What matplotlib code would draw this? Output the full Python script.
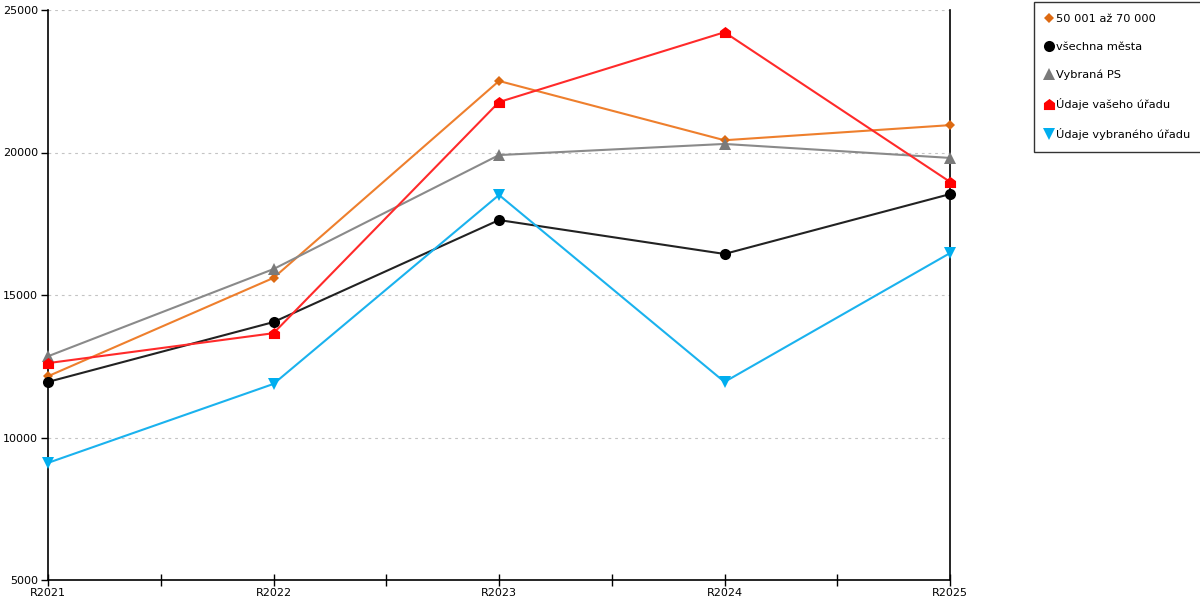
import matplotlib
matplotlib.use("Agg")
import matplotlib.pyplot as plt
from matplotlib.path import Path
from matplotlib.lines import Line2D

categories = ["R2021", "R2022", "R2023", "R2024", "R2025"]
orange_vals = [12150, 15600, 22510, 20430, 20960]
black_vals = [11950, 14050, 17630, 16440, 18540]
gray_vals = [12850, 15910, 19910, 20300, 19810]
red_vals = [12610, 13660, 21770, 24220, 18970]
cyan_vals = [9110, 11880, 18510, 11950, 16470]
labels = ["50 001 až 70 000", "všechna města", "Vybraná PS",
          "Údaje vašeho úřadu", "Údaje vybraného úřadu"]
yticks = [5000, 10000, 15000, 20000, 25000]

plt.rcParams['font.family'] = ['DejaVu Sans']

house = Path([(-1, -1), (1, -1), (1, 0.25), (0, 1), (-1, 0.25), (-1, -1)],
             [Path.MOVETO, Path.LINETO, Path.LINETO, Path.LINETO, Path.LINETO, Path.CLOSEPOLY])

fig = plt.figure(figsize=(12, 6), dpi=100)
ax = fig.add_axes([48/1200, 20/600, (950-48)/1200, 570/600])

x = list(range(len(categories)))
series = [
    (orange_vals, '#ee7f2d', '#dd6a12', 'D', 5.5),
    (black_vals, '#222222', '#000000', 'o', 8),
    (gray_vals, '#8a8a8a', '#7a7a7a', '^', 8),
    (red_vals, '#ff2a2a', '#ff0000', house, 8),
    (cyan_vals, '#1ab2ee', '#00aeef', 'v', 8),
]
handles = []
for (vals, lc, mc, mk, ms), lab in zip(series, labels):
    ax.plot(x, vals, color=lc, lw=1.5, zorder=3, clip_on=False)
    ax.plot(x, vals, linestyle='none', marker=mk, ms=ms, color=mc,
            markeredgewidth=0, zorder=4, clip_on=False)
    handles.append(Line2D([], [], linestyle='none', marker=mk, ms=ms, color=mc,
                          markeredgewidth=0, label=lab))

ax.set_xlim(0, len(categories) - 1)
ax.set_ylim(5000, 25000)
ax.set_xticks(x)
ax.set_xticklabels(categories, fontsize=8)
ax.set_xticks([i + 0.5 for i in x[:-1]], minor=True)
ax.set_yticks(yticks)
ax.set_yticklabels([str(v) for v in yticks], fontsize=8)
ax.tick_params(axis='x', which='both', direction='inout', length=9, width=1, pad=1)
ax.tick_params(axis='y', direction='out', length=5, width=1, pad=2)
for yv in yticks[1:]:
    ax.axhline(yv, color='#c4c4c4', lw=0.8, ls=(0, (2.5, 3.5)), zorder=1)
ax.spines['top'].set_visible(False)
for s in ['left', 'right', 'bottom']:
    ax.spines[s].set_linewidth(1.2)
    ax.spines[s].set_color('black')

leg = fig.legend(handles=handles, loc='upper left', bbox_to_anchor=(1034/1200, 1 - 2/600),
                 frameon=True, fancybox=False, fontsize=8.2, labelspacing=1.58,
                 handlelength=0.6, handletextpad=0.3, borderpad=1.05, borderaxespad=0)
leg.get_frame().set_edgecolor('black')
leg.get_frame().set_linewidth(1)

fig.savefig("out.png", dpi=100)
